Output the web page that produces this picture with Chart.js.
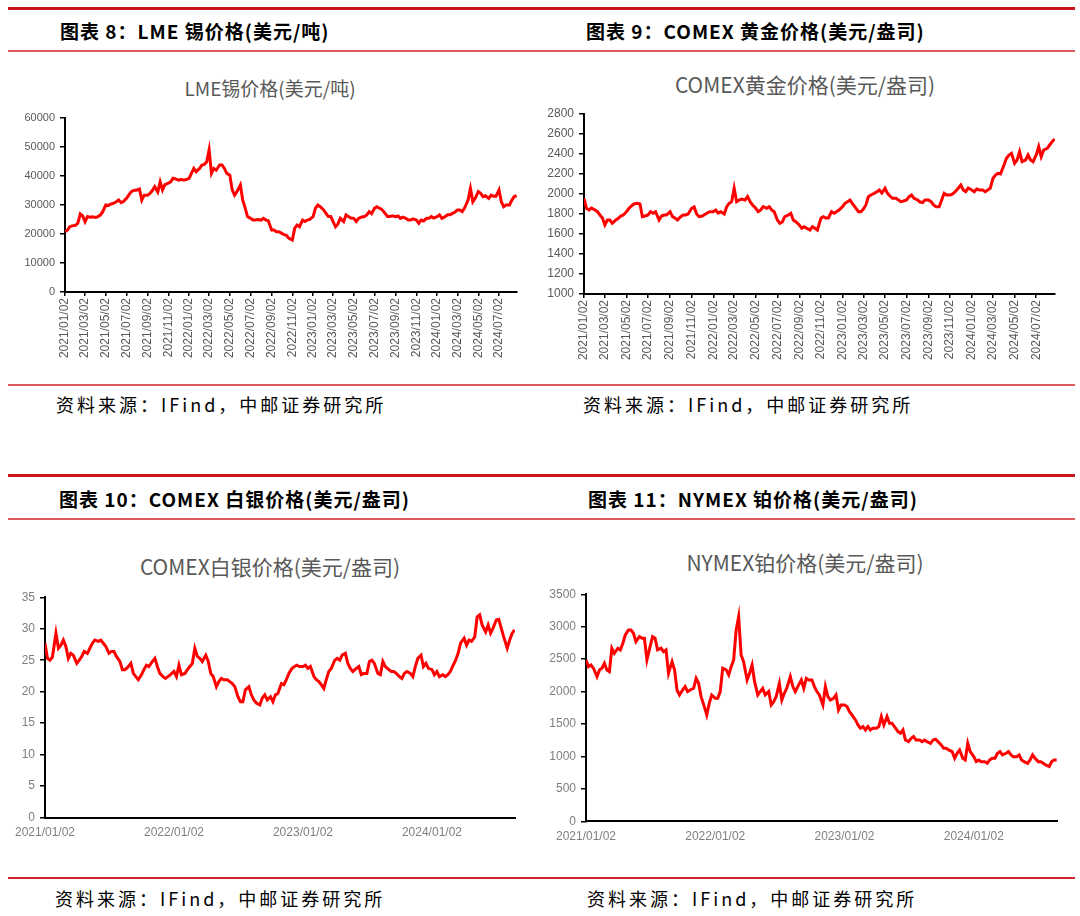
<!DOCTYPE html>
<html>
<head>
<meta charset="utf-8">
<script src="https://cdn.jsdelivr.net/npm/chart.js@4.4.1/dist/chart.umd.min.js"></script>
<style>
  body { margin: 0; background: #fff; }
  #page { position: relative; width: 1080px; height: 916px; overflow: hidden; font-family: "Noto Sans CJK SC", sans-serif; }
  .rule { position: absolute; left: 8px; width: 1067px; }
  .thick { height: 3px; background: #c8161d; }
  .thin { height: 1.5px; background: #df5a5e; }
  .head { position: absolute; font-size: 19px; line-height: 19px; font-weight: bold; letter-spacing: 1px; color: #000; white-space: nowrap; }
  .src { position: absolute; font-size: 18px; line-height: 18px; letter-spacing: 3px; color: #000; white-space: nowrap; }
  .ctitle { position: absolute; transform: translateX(-50%); color: #595959; white-space: nowrap; }
  .box { position: absolute; }
  canvas { display: block; }
</style>
</head>
<body>
<div id="page">
  <div class="rule thick" style="top:7px"></div>
  <div class="head" style="left:60px;top:21px">图表 8：LME 锡价格(美元/吨)</div>
  <div class="head" style="left:586px;top:21px">图表 9：COMEX 黄金价格(美元/盎司)</div>
  <div class="rule thin" style="top:50px"></div>

  <div class="ctitle" style="left:270px;top:78px;font-size:19px;line-height:19px">LME锡价格(美元/吨)</div>
  <div class="ctitle" style="left:805px;top:74px;font-size:21px;line-height:21px">COMEX黄金价格(美元/盎司)</div>
  <div class="box" style="left:0;top:60px"><canvas id="tinChart" width="540" height="315"></canvas></div>
  <div class="box" style="left:540px;top:60px"><canvas id="goldChart" width="540" height="315"></canvas></div>

  <div class="rule thin" style="top:384px"></div>
  <div class="src" style="left:56px;top:395px">资料来源：IFind，中邮证券研究所</div>
  <div class="src" style="left:583px;top:395px">资料来源：IFind，中邮证券研究所</div>

  <div class="rule thick" style="top:474px"></div>
  <div class="head" style="left:59px;top:489px">图表 10：COMEX 白银价格(美元/盎司)</div>
  <div class="head" style="left:588px;top:489px">图表 11：NYMEX 铂价格(美元/盎司)</div>
  <div class="rule thin" style="top:518px"></div>

  <div class="ctitle" style="left:270px;top:556px;font-size:21px;line-height:21px">COMEX白银价格(美元/盎司)</div>
  <div class="ctitle" style="left:805px;top:552px;font-size:21px;line-height:21px">NYMEX铂价格(美元/盎司)</div>
  <div class="box" style="left:0;top:530px"><canvas id="silverChart" width="540" height="340"></canvas></div>
  <div class="box" style="left:540px;top:530px"><canvas id="platChart" width="540" height="340"></canvas></div>

  <div class="rule thin" style="top:877px;background:#c8262c"></div>
  <div class="src" style="left:55px;top:889px">资料来源：IFind，中邮证券研究所</div>
  <div class="src" style="left:587px;top:889px">资料来源：IFind，中邮证券研究所</div>
</div>

<script>
const START_DATE = "2021/01/02";
const END_DATE = "2024/08/24";
const WEEK_DAYS = [2, 9, 16, 23];

// sample dates: four per month, 2021/01 .. 2024/08
const weekDates = [];
for (let y = 2021; y <= 2024; y++) {
  for (let m = 1; m <= 12; m++) {
    if (y === 2024 && m > 8) break;
    for (const d of WEEK_DAYS) {
      weekDates.push(y + "/" + String(m).padStart(2, "0") + "/" + String(d).padStart(2, "0"));
    }
  }
}

const bimonthTicks = [
  "2021/01/02", "2021/03/02", "2021/05/02", "2021/07/02", "2021/09/02", "2021/11/02",
  "2022/01/02", "2022/03/02", "2022/05/02", "2022/07/02", "2022/09/02", "2022/11/02",
  "2023/01/02", "2023/03/02", "2023/05/02", "2023/07/02", "2023/09/02", "2023/11/02",
  "2024/01/02", "2024/03/02", "2024/05/02", "2024/07/02"
];
const yearTicks = ["2021/01/02", "2022/01/02", "2023/01/02", "2024/01/02"];

// LME tin, USD/t
const tinValues = [
  20800, 21300, 22500, 22800,
  23000, 23800, 26900, 26200,
  24200, 26000, 25800, 25900,
  25700, 26000, 26500, 27700,
  30000, 29800, 30300, 30500,
  31100, 31700, 30800, 31200,
  32300, 33500, 34600, 35000,
  35200, 35500, 31700, 33400,
  33400, 34000, 35000, 36300,
  34500, 38000, 35200, 37000,
  37500, 38000, 39200, 39000,
  38600, 38800, 38600, 38700,
  39200, 40900, 42600, 41500,
  42600, 43800, 44000, 44900,
  49000, 40900, 42600, 42000,
  43800, 43800, 42600, 40900,
  40300, 35200, 33400, 34600,
  36900, 31700, 29000, 26000,
  25400, 24800, 24800, 25000,
  24800, 25400, 24800, 24600,
  21400, 21400, 20800, 20800,
  20200, 19800, 19500, 18500,
  17900, 22000, 23100, 22500,
  24800, 24300, 24800, 25000,
  26000, 28900, 30000, 29400,
  28300, 27100, 26000, 26000,
  24300, 22500, 23500, 25400,
  24300, 26600, 26000, 25500,
  25400, 24300, 25400, 25800,
  26000, 26600, 27700, 27000,
  28900, 29400, 28900, 28500,
  27100, 26000, 26000, 26300,
  26000, 26200, 25400, 25800,
  25400, 24800, 24800, 25200,
  24800, 23700, 24800, 24500,
  25400, 25400, 26000, 25500,
  26000, 26600, 25400, 25800,
  26600, 26600, 27100, 27500,
  28300, 28300, 27700, 29000,
  31700, 35700, 31100, 32300,
  34600, 34000, 32900, 33200,
  32300, 33400, 33000, 33000,
  35200, 31100, 29400, 30000,
  30000, 31700, 32900, 33200
];

// COMEX gold, USD/oz
const goldValues = [
  1957, 1857, 1840, 1860,
  1840, 1823, 1790, 1760,
  1690, 1740, 1740, 1707,
  1740, 1757, 1780, 1790,
  1823, 1857, 1880, 1900,
  1907, 1900, 1773, 1780,
  1790, 1823, 1807, 1823,
  1740, 1780, 1790, 1790,
  1823, 1773, 1760, 1740,
  1773, 1790, 1790, 1800,
  1857, 1870, 1800, 1773,
  1780, 1795, 1810, 1823,
  1823, 1840, 1810, 1823,
  1800, 1873, 1907, 1923,
  2057, 1923, 1940, 1950,
  1940, 1973, 1923, 1890,
  1857, 1823, 1840, 1873,
  1857, 1873, 1840, 1823,
  1740, 1707, 1720, 1773,
  1790, 1807, 1740, 1723,
  1690, 1657, 1673, 1657,
  1640, 1673, 1657, 1640,
  1757, 1773, 1760, 1760,
  1823, 1807, 1823, 1840,
  1873, 1907, 1923, 1940,
  1890, 1857, 1823, 1823,
  1850, 1890, 1973, 1990,
  2007, 2023, 2040, 2010,
  2057, 2007, 1980, 1957,
  1957, 1940, 1923, 1930,
  1940, 1973, 1990, 1957,
  1940, 1920, 1915, 1940,
  1940, 1923, 1890, 1873,
  1873, 1940, 2007, 1990,
  1990, 2000, 2023, 2050,
  2090, 2040, 2023, 2060,
  2040, 2023, 2050, 2040,
  2040, 2023, 2040, 2057,
  2157, 2190, 2207, 2200,
  2290, 2357, 2390, 2407,
  2307, 2340, 2423, 2323,
  2340, 2390, 2340, 2323,
  2390, 2473, 2373, 2440,
  2457, 2490, 2523, 2550
];

// COMEX silver, USD/oz
const silverValues = [
  27.7, 25.3, 25.0, 25.5,
  29.3, 26.9, 27.4, 28.2,
  27.2, 25.3, 26.1, 25.8,
  24.5, 25.0, 25.6, 26.4,
  26.1, 26.9, 27.7, 28.2,
  28.0, 28.2, 27.7, 27.2,
  26.1, 26.4, 26.4, 25.6,
  24.8, 23.5, 23.5, 23.8,
  24.5, 22.9, 22.4, 21.9,
  22.7, 23.5, 24.2, 24.0,
  24.8, 25.3, 24.0, 22.9,
  22.4, 22.1, 22.4, 22.7,
  23.2, 22.4, 24.2, 22.7,
  22.9, 23.5, 24.0, 24.5,
  26.9, 25.6, 25.3, 24.8,
  25.8, 24.8, 22.9, 22.4,
  20.8, 21.6, 22.1, 21.9,
  21.9, 21.6, 21.3, 20.8,
  19.2, 18.4, 18.4, 20.3,
  20.8, 19.5, 18.7, 18.2,
  17.9, 19.0, 19.5, 18.7,
  19.2, 18.4, 19.5, 19.7,
  21.3, 21.1, 21.9, 22.9,
  23.7, 24.0, 24.2, 24.0,
  24.0, 24.2, 23.7, 24.0,
  22.4, 21.9, 21.6, 21.1,
  20.5, 21.9, 23.2, 23.7,
  25.0, 25.3, 25.0, 25.8,
  26.1, 24.5, 23.7, 23.2,
  23.7, 24.0, 22.7, 22.9,
  22.9, 24.8, 25.0, 24.5,
  22.9, 22.7, 24.8, 24.0,
  23.5, 23.2, 23.2, 22.9,
  22.4, 22.1, 22.9, 23.2,
  22.9, 22.4, 24.0, 25.3,
  25.8, 24.0, 24.5, 23.7,
  23.5, 22.7, 23.2, 22.4,
  22.7, 22.4, 22.7, 23.2,
  24.2, 25.0, 26.1, 27.7,
  28.5, 27.4, 28.2, 28.0,
  28.7, 31.9, 32.2, 30.6,
  29.5, 30.6, 29.3, 30.1,
  31.4, 31.5, 30.1, 28.7,
  26.9, 28.2, 29.3, 29.8
];

// NYMEX platinum, USD/oz
const platValues = [
  2488, 2385, 2410, 2360,
  2230, 2334, 2360, 2436,
  2334, 2308, 2668, 2590,
  2668, 2642, 2745, 2873,
  2950, 2950, 2899, 2770,
  2848, 2822, 2822, 2488,
  2693, 2848, 2822, 2642,
  2668, 2616, 2642, 2282,
  2462, 2334, 2025, 1948,
  2025, 2077, 2000, 2025,
  2051, 2205, 2128, 1922,
  1768, 1640, 1820, 1948,
  1897, 1897, 2000, 2360,
  2334, 2257, 2385, 2488,
  2950, 3156, 2565, 2462,
  2180, 2282, 2410, 2154,
  1948, 2000, 2051, 1948,
  2000, 1794, 1845, 1922,
  2128, 1871, 1974, 2051,
  2231, 2077, 2000, 2077,
  2180, 2051, 2205, 2180,
  2180, 2077, 2000, 1948,
  1794, 2077, 1922, 1871,
  1897, 1948, 1717, 1794,
  1794, 1768, 1691, 1640,
  1563, 1486, 1434, 1460,
  1408, 1460, 1408, 1434,
  1434, 1460, 1614, 1486,
  1614, 1511, 1511, 1460,
  1383, 1357, 1408, 1254,
  1228, 1280, 1306, 1254,
  1254, 1228, 1254, 1228,
  1203, 1254, 1265, 1228,
  1177, 1126, 1126, 1100,
  1074, 972, 1049, 1100,
  972, 946, 1203, 1074,
  997, 920, 946, 920,
  920, 894, 946, 972,
  972, 1049, 1074, 1023,
  1049, 1074, 1023, 997,
  997, 1023, 946, 920,
  894, 946, 1023, 972,
  920, 920, 894, 869,
  843, 920, 946, 946
];

function dayOf(s) {
  const [y, m, d] = s.split("/").map(Number);
  const [y0, m0, d0] = START_DATE.split("/").map(Number);
  return (Date.UTC(y, m - 1, d) - Date.UTC(y0, m0 - 1, d0)) / 86400000;
}

Chart.defaults.font.family = '"Liberation Sans", Arial, sans-serif';

function drawPriceChart(id, cfg) {
  const points = weekDates.map((d, i) => ({ x: dayOf(d), y: cfg.values[i] }));
  const rotated = cfg.rotate > 0;

  return new Chart(document.getElementById(id), {
    type: "line",
    data: {
      datasets: [{
        data: points,
        borderColor: "#ff0000",
        borderWidth: 3,
        pointRadius: 0,
        tension: 0
      }]
    },
    options: {
      responsive: false,
      animation: false,
      layout: { padding: cfg.padding },
      plugins: {
        legend: { display: false },
        tooltip: { enabled: false }
      },
      scales: {
        x: {
          type: "linear",
          min: 0,
          max: dayOf(END_DATE),
          afterBuildTicks: (scale) => {
            scale.ticks = cfg.tickLabels.map(t => ({ value: dayOf(t) }));
          },
          afterFit: (scale) => { scale.height = cfg.xHeight; },
          ticks: {
            autoSkip: false,
            minRotation: cfg.rotate,
            maxRotation: cfg.rotate,
            color: cfg.tickColor,
            font: { size: 12 },
            padding: rotated ? 2 : 8,
            callback: (v, i) => cfg.tickLabels[i]
          },
          grid: rotated
            ? { drawOnChartArea: false, color: "#000", tickLength: 4, lineWidth: 1.5 }
            : { display: false, drawTicks: false },
          border: { color: "#000", width: 2 }
        },
        y: {
          min: cfg.yMin,
          max: cfg.yMax,
          afterFit: (scale) => { scale.width = cfg.yWidth; },
          ticks: {
            stepSize: cfg.yStep,
            color: cfg.tickColor,
            font: { size: cfg.yFont },
            padding: 5,
            callback: (v) => String(v)
          },
          grid: { drawOnChartArea: false, color: "#000", tickLength: 5, lineWidth: 1.5 },
          border: { color: "#000", width: 2 }
        }
      }
    }
  });
}

drawPriceChart("tinChart", {
  values: tinValues, yMin: 0, yMax: 60000, yStep: 10000, yFont: 11,
  tickLabels: bimonthTicks, rotate: 90, tickColor: "#595959",
  padding: { left: 0, right: 23, top: 58, bottom: 8 }, yWidth: 65, xHeight: 75
});

drawPriceChart("goldChart", {
  values: goldValues, yMin: 1000, yMax: 2800, yStep: 200, yFont: 12,
  tickLabels: bimonthTicks, rotate: 90, tickColor: "#595959",
  padding: { left: 0, right: 25, top: 54, bottom: 8 }, yWidth: 44, xHeight: 73
});

drawPriceChart("silverChart", {
  values: silverValues, yMin: 0, yMax: 35, yStep: 5, yFont: 12,
  tickLabels: yearTicks, rotate: 0, tickColor: "#7f7f7f",
  padding: { left: 0, right: 25, top: 67.3, bottom: 22.5 }, yWidth: 45, xHeight: 30
});

drawPriceChart("platChart", {
  values: platValues, yMin: 0, yMax: 3500, yStep: 500, yFont: 12,
  tickLabels: yearTicks, rotate: 0, tickColor: "#7f7f7f",
  padding: { left: 0, right: 23, top: 64.3, bottom: 18.7 }, yWidth: 46, xHeight: 30
});
</script>
</body>
</html>
